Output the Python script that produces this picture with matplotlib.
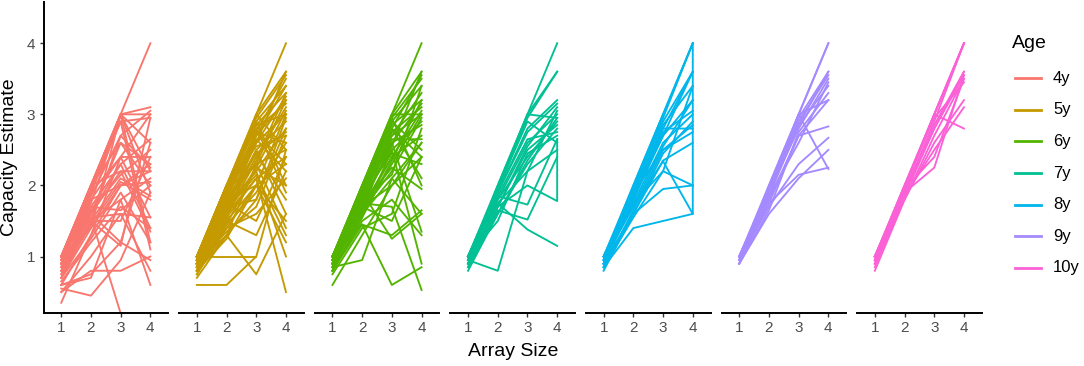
import numpy as np
import matplotlib
matplotlib.use("Agg")
import matplotlib.pyplot as plt
from matplotlib.lines import Line2D

plt.rcParams['font.family'] = ['Liberation Sans', 'DejaVu Sans']

# array sizes (x) shared by every participant line
array_size = [1, 2, 3, 4]

# capacity estimates per participant (one list per line)
# a 5th value means a second point at array size 4
age_4y = [
    [1.0, 2.0, 3.0, 4.0], [1.0, 2.0, 3.0, 3.1], [0.95, 2.0, 3.0, 3.0],
    [1.0, 1.95, 2.9, 2.95], [0.9, 1.9, 3.0, 2.6], [0.95, 1.85, 2.7, 3.05],
    [1.0, 2.0, 2.6, 2.0], [0.9, 1.8, 2.4, 2.4], [0.85, 1.7, 2.3, 2.65],
    [1.0, 1.6, 2.2, 2.2], [0.8, 1.5, 2.1, 1.85], [0.9, 1.6, 2.3, 1.4],
    [0.7, 1.4, 2.0, 2.3], [1.0, 2.0, 2.2, 1.35], [0.8, 1.5, 1.8, 2.1],
    [0.6, 1.3, 2.4, 1.55], [0.95, 1.7, 1.65, 2.0], [0.75, 1.5, 1.5, 2.4],
    [1.0, 1.9, 2.9, 1.1], [0.9, 1.6, 1.2, 2.6], [0.55, 0.45, 0.95, 1.9],
    [0.5, 0.8, 0.8, 1.0], [0.35, 1.3, 2.0, 2.2], [0.9, 1.55, 0.2, 0.2],
    [0.6, 0.7, 1.8, 0.6], [0.5, 1.0, 1.6, 0.8], [0.7, 1.5, 1.15, 2.95],
    [1.0, 1.4, 3.0, 1.2], [0.85, 1.65, 2.15, 2.5], [0.65, 1.2, 1.7, 1.4],
    [1.0, 2.0, 3.0, 2.2], [0.8, 1.6, 2.6, 2.3], [0.6, 0.75, 1.2, 0.95],
    [0.95, 1.9, 2.4, 3.0], [0.9, 1.55, 1.6, 1.55], [0.75, 1.45, 2.05, 1.8],
    [1.0, 1.8, 2.0, 2.05], [0.85, 1.5, 2.7, 2.25], [0.7, 1.25, 1.9, 1.2],
    [0.95, 1.75, 3.0, 1.9],
]
age_5y = [
    [1.0, 2.0, 3.0, 4.0], [1.0, 2.0, 3.0, 3.6], [0.95, 2.0, 2.95, 3.55],
    [1.0, 1.95, 2.9, 3.4], [0.9, 1.9, 2.85, 3.3], [1.0, 2.0, 2.8, 3.15],
    [0.95, 1.85, 2.75, 3.5], [0.85, 1.8, 2.7, 3.2], [1.0, 1.9, 2.6, 3.0],
    [0.9, 1.75, 2.6, 3.6], [0.8, 1.7, 2.5, 2.9], [1.0, 2.0, 2.55, 2.7],
    [0.95, 1.65, 2.4, 3.1], [0.9, 1.8, 2.3, 2.5], [0.85, 1.6, 2.35, 3.3],
    [1.0, 1.7, 2.2, 2.8], [0.8, 1.55, 2.1, 2.4], [0.95, 1.5, 2.0, 3.0],
    [0.9, 1.6, 2.25, 2.0], [1.0, 1.85, 2.65, 2.2], [0.85, 1.45, 1.9, 2.6],
    [0.75, 1.4, 2.0, 2.3], [1.0, 1.9, 3.0, 2.5], [0.9, 1.7, 1.8, 2.95],
    [0.95, 1.8, 2.45, 1.8], [1.0, 2.0, 2.9, 2.0], [0.8, 1.5, 2.7, 3.4],
    [0.9, 1.35, 1.7, 2.7], [0.85, 1.6, 2.5, 1.6], [1.0, 1.75, 1.5, 2.4],
    [0.7, 1.3, 2.3, 3.2], [0.95, 1.95, 2.3, 1.4], [0.9, 1.4, 1.6, 2.1],
    [0.8, 1.25, 2.0, 1.2], [1.0, 1.6, 2.8, 1.9], [0.75, 1.5, 1.3, 2.2],
    [0.6, 0.6, 1.0, 2.5], [1.0, 1.0, 1.0, np.nan], [0.9, 1.3, 0.75, 1.6],
    [0.85, 1.7, 2.2, 1.0], [1.0, 1.6, 2.1, 0.5], [0.95, 1.8, 2.0, 1.5],
    [0.8, 1.3, 1.8, 2.8], [1.0, 1.95, 2.85, 3.0], [0.9, 1.85, 2.75, 2.6],
    [0.95, 1.7, 2.6, 3.25], [0.85, 1.75, 2.45, 2.75], [1.0, 1.9, 2.75, 2.3],
    [0.9, 1.65, 2.15, 1.3], [0.8, 1.45, 2.25, 3.05],
]
age_6y = [
    [1.0, 2.0, 3.0, 4.0], [0.95, 2.0, 3.0, 3.6], [1.0, 1.95, 2.95, 3.5],
    [0.9, 1.9, 2.9, 3.4], [1.0, 2.0, 2.85, 3.2], [0.95, 1.9, 2.8, 3.55],
    [0.85, 1.85, 2.75, 3.1], [1.0, 1.9, 2.7, 3.0], [0.9, 1.8, 2.7, 3.3],
    [0.95, 1.85, 2.6, 2.85], [0.8, 1.7, 2.6, 3.15], [1.0, 1.8, 2.5, 2.9],
    [0.9, 1.75, 2.55, 3.6], [0.85, 1.7, 2.4, 2.7], [1.0, 1.95, 2.9, 2.5],
    [0.95, 1.6, 2.3, 3.0], [0.9, 1.65, 2.2, 2.95], [0.8, 1.55, 2.35, 3.2],
    [1.0, 1.85, 2.45, 2.3], [0.9, 1.7, 2.0, 2.6], [0.95, 1.8, 2.95, 2.0],
    [0.85, 1.6, 2.1, 1.6], [1.0, 1.9, 2.6, 1.35], [0.85, 0.95, 2.1, 2.6],
    [1.0, 1.45, 0.6, 0.85], [0.9, 1.9, 1.25, 1.6], [0.95, 1.7, 1.5, 2.4],
    [0.8, 1.5, 1.8, 1.3], [1.0, 1.75, 1.7, 0.53], [0.6, 1.3, 2.0, 2.4],
    [0.75, 1.4, 1.6, 2.8], [0.9, 1.55, 2.5, 0.9], [1.0, 2.0, 3.0, 3.0],
    [0.95, 1.95, 2.8, 2.4], [0.85, 1.75, 2.25, 1.95], [0.9, 1.6, 2.8, 2.1],
    [1.0, 1.8, 2.15, 3.4], [0.8, 1.45, 1.3, 1.65], [0.95, 1.65, 2.4, 3.05],
    [0.9, 1.85, 2.65, 2.65],
]
age_7y = [
    [1.0, 2.0, 3.0, 4.0], [0.95, 2.0, 3.0, 3.6], [1.0, 1.95, 2.95, 3.6],
    [0.9, 1.9, 2.8, 3.2], [1.0, 1.9, 3.0, 2.95], [0.95, 1.8, 2.6, 3.0],
    [0.9, 1.7, 2.5, 2.85], [1.0, 1.8, 2.4, 2.9], [0.85, 1.6, 2.3, 2.8],
    [0.9, 1.75, 2.2, 3.05], [1.0, 1.5, 2.45, 2.7], [0.95, 1.85, 1.73, 2.65],
    [0.9, 1.7, 2.0, 1.78, 2.65], [0.95, 0.8, 2.2, 2.5], [1.0, 1.75, 1.38, 1.15],
    [0.85, 1.65, 1.52, 2.4], [1.0, 1.9, 2.75, 3.15], [0.9, 1.85, 2.65, 2.75],
    [0.95, 1.7, 2.55, 3.1], [1.0, 1.95, 2.9, 2.6], [0.8, 1.6, 2.35, 2.95],
]
age_8y = [
    [1.0, 2.0, 3.0, 4.0], [0.95, 2.0, 3.0, 4.0], [0.9, 1.95, 2.95, 4.0],
    [1.0, 1.95, 2.9, 3.6], [0.9, 1.9, 2.8, 3.6], [0.85, 1.85, 2.7, 3.6],
    [1.0, 1.8, 2.7, 3.2], [0.95, 1.7, 2.55, 3.2], [0.9, 1.75, 2.6, 3.0],
    [0.85, 1.65, 2.5, 2.85], [1.0, 1.9, 2.5, 2.75], [0.9, 1.6, 2.35, 2.6],
    [0.95, 1.8, 2.8, 2.8], [0.85, 1.55, 2.2, 3.4], [1.0, 1.7, 2.34, 1.6],
    [0.85, 1.4, 1.5, 1.6, 4.0], [0.95, 1.75, 2.2, 2.0], [0.9, 1.6, 1.95, 2.0],
    [1.0, 1.85, 2.75, 3.05], [0.8, 1.6, 2.45, 2.9], [0.95, 1.9, 2.85, 3.4],
]
age_9y = [
    [1.0, 2.0, 3.0, 4.0], [0.95, 2.0, 3.0, 4.0], [1.0, 1.95, 2.95, 3.6],
    [0.95, 1.9, 2.9, 3.55], [1.0, 1.9, 2.8, 3.5], [0.9, 1.85, 2.85, 3.4],
    [1.0, 1.9, 3.0, 3.2], [0.95, 1.8, 2.7, 3.2], [0.9, 1.75, 2.7, 2.83],
    [1.0, 1.85, 2.6, 3.45], [0.95, 1.7, 2.3, 2.67], [0.9, 1.6, 2.1, 2.5],
    [1.0, 1.9, 3.0, 2.23], [0.95, 1.75, 2.15, 2.25], [1.0, 1.95, 2.85, 3.6],
    [0.9, 1.65, 2.75, 3.3],
]
age_10y = [
    [1.0, 2.0, 3.0, 4.0], [0.95, 2.0, 3.0, 4.0], [1.0, 1.95, 3.0, 4.0],
    [0.9, 1.9, 2.9, 4.0], [0.85, 1.85, 2.85, 3.6], [1.0, 1.9, 2.8, 3.6],
    [0.95, 1.85, 2.8, 3.55], [0.9, 1.8, 2.7, 3.5], [1.0, 1.95, 3.0, 2.8],
    [0.8, 1.8, 2.6, 3.2], [0.9, 1.85, 2.5, 3.1], [1.0, 1.9, 2.25, 3.55],
    [0.95, 1.95, 2.4, 3.5], [1.0, 2.0, 2.95, 3.45],
]

age_labels = ['4y', '5y', '6y', '7y', '8y', '9y', '10y']
age_data = [age_4y, age_5y, age_6y, age_7y, age_8y, age_9y, age_10y]
colors = ['#F8766D', '#C49A00', '#53B400', '#00C094', '#00B6EB', '#A58AFF', '#FB61D7']

W, H = 1084, 366
fig = plt.figure(figsize=(W / 100, H / 100), dpi=100)

panel_left = 43.7
panel_step = 135.6
panel_w = 124.5
y_bottom_px = 312.7
y_top_px = 2.0

for i, (lab, rows, col) in enumerate(zip(age_labels, age_data, colors)):
    left = (panel_left + i * panel_step) / W
    ax = fig.add_axes([left, (H - y_bottom_px) / H, panel_w / W,
                       (y_bottom_px - y_top_px) / H])
    for r in rows:
        xs = array_size if len(r) == 4 else array_size + [4]
        ax.plot(xs, r, color=col, lw=1.35, solid_joinstyle='round')
    ax.set_xlim(0.41, 4.6)
    ax.set_ylim(0.21, 4.58)
    ax.set_xticks([1, 2, 3, 4])
    ax.set_yticks([1, 2, 3, 4])
    for s in ['top', 'right']:
        ax.spines[s].set_visible(False)
    ax.spines['bottom'].set_linewidth(1.4)
    ax.tick_params(axis='x', length=3, width=1.0, pad=3, labelsize=11,
                   labelcolor='#4D4D4D', color='#333333')
    if i == 0:
        ax.spines['left'].set_linewidth(1.4)
        ax.tick_params(axis='y', length=3, width=1.0, pad=3, labelsize=11,
                       labelcolor='#4D4D4D', color='#333333')
    else:
        ax.spines['left'].set_visible(False)
        ax.tick_params(axis='y', left=False, labelleft=False)
    ax.patch.set_alpha(0)

fig.text(10 / W, 1 - 157 / H, 'Capacity Estimate', rotation=90, ha='center',
         va='center', fontsize=14)
fig.text(512.7 / W, 1 - 351.7 / H, 'Array Size', ha='center', va='center',
         fontsize=14)

# legend drawn by hand
fig.text(1012 / W, 1 - 43 / H, 'Age', ha='left', va='center', fontsize=14)
for k, (lab, col) in enumerate(zip(age_labels, colors)):
    yk = 1 - (78.3 + k * 31.6) / H
    fig.add_artist(Line2D([1015 / W, 1041 / W], [yk, yk], color=col, lw=2.0,
                          transform=fig.transFigure))
    fig.text(1053 / W, yk, lab, ha='left', va='center', fontsize=12)

fig.savefig('out.png', dpi=100)
